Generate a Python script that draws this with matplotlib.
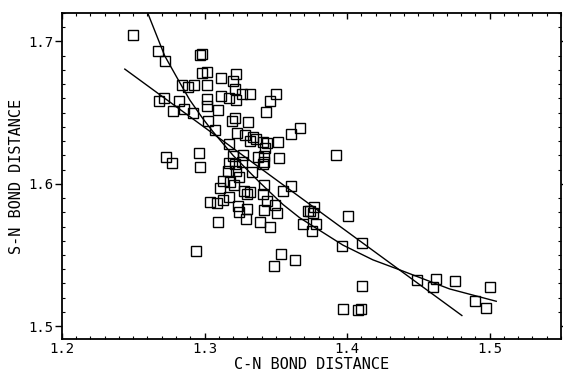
import numpy as np
import matplotlib
matplotlib.use("Agg")
import matplotlib.pyplot as plt
from matplotlib.ticker import MultipleLocator

# === Data ===
cn = [1.2496, 1.2674, 1.2722, 1.2966, 1.2984, 1.2979, 1.3019, 1.3218, 1.3117, 1.3200,
      1.2840, 1.2881, 1.2923, 1.3019, 1.3213, 1.3117, 1.3175, 1.3218, 1.3265, 1.3318,
      1.3016, 1.3016, 1.2682, 1.2714, 1.2818, 1.2780, 1.2853, 1.2921, 1.3097, 1.3457,
      1.3504, 1.3429, 1.3213, 1.3195, 1.3303, 1.3021, 1.3077, 1.3673, 1.3605, 1.3228,
      1.3283, 1.3318, 1.3341, 1.3358, 1.3409, 1.3436, 1.3512, 1.3919, 1.2964, 1.2730,
      1.2772, 1.2971, 1.3203, 1.3270, 1.3376, 1.3416, 1.3522, 1.3170, 1.3213, 1.3265,
      1.3411, 1.3419, 1.3162, 1.3218, 1.3333, 1.3245, 1.3130, 1.3180, 1.3205, 1.3109,
      1.3275, 1.3318, 1.3296, 1.3414, 1.3411, 1.3550, 1.3610, 1.3172, 1.3039, 1.3087,
      1.3130, 1.3439, 1.3238, 1.3245, 1.3296, 1.3291, 1.3414, 1.3492, 1.3509, 1.3386,
      1.3457, 1.3094, 1.3728, 1.3743, 1.3769, 1.3761, 1.3688, 1.3784, 1.3756, 1.4003,
      1.3965, 1.4106, 1.2943, 1.3535, 1.3635, 1.3484, 1.4491, 1.4621, 1.4604, 1.4760,
      1.5001, 1.4103, 1.3972, 1.4078, 1.4096, 1.4898, 1.4971, 1.3175, 1.3426]
sn = [1.7044, 1.6935, 1.6864, 1.6904, 1.6909, 1.6782, 1.6789, 1.6775, 1.6740, 1.6719,
      1.6694, 1.6682, 1.6691, 1.6694, 1.6663, 1.6619, 1.6602, 1.6588, 1.6628, 1.6628,
      1.6593, 1.6546, 1.6579, 1.6605, 1.6579, 1.6509, 1.6525, 1.6497, 1.6516, 1.6579,
      1.6628, 1.6502, 1.6464, 1.6439, 1.6434, 1.6439, 1.6378, 1.6389, 1.6350, 1.6354,
      1.6343, 1.6303, 1.6326, 1.6315, 1.6294, 1.6284, 1.6291, 1.6205, 1.6216, 1.6188,
      1.6146, 1.6116, 1.6198, 1.6205, 1.6186, 1.6193, 1.6181, 1.6144, 1.6139, 1.6153,
      1.6139, 1.6151, 1.6092, 1.6092, 1.6081, 1.6046, 1.6022, 1.6011, 1.5994, 1.5971,
      1.5952, 1.5940, 1.5929, 1.5992, 1.5929, 1.5947, 1.5985, 1.5910, 1.5873, 1.5865,
      1.5887, 1.5882, 1.5847, 1.5802, 1.5823, 1.5753, 1.5819, 1.5849, 1.5793, 1.5732,
      1.5699, 1.5732, 1.5807, 1.5812, 1.5840, 1.5793, 1.5718, 1.5718, 1.5667, 1.5774,
      1.5561, 1.5582, 1.5526, 1.5508, 1.5465, 1.5426, 1.5325, 1.5330, 1.5278, 1.5318,
      1.5278, 1.5283, 1.5124, 1.5115, 1.5122, 1.5180, 1.5131, 1.6282, 1.6251]

# straight fit line (end points)
line_x = [1.2441, 1.4805]
line_y = [1.6806, 1.5075]

# curved fit
curve_x = [1.2602, 1.2721, 1.2826, 1.2896, 1.2987, 1.3058, 1.3200, 1.3387,
           1.3550, 1.3667, 1.3970, 1.4181, 1.4368, 1.4718, 1.5046]
curve_y = [1.7199, 1.6899, 1.6712, 1.6590, 1.6460, 1.6368, 1.6200, 1.6010,
           1.5855, 1.5762, 1.5570, 1.5466, 1.5396, 1.5262, 1.5175]

x_ticks = [1.2, 1.3, 1.4, 1.5]
y_ticks = [1.5, 1.6, 1.7]

# === Plot ===
FONT = "DejaVu Sans Mono"
fig = plt.figure(figsize=(5.63, 3.76), dpi=100)
ax = fig.add_axes([0.110, 0.0984, 0.8864, 0.867])

ax.plot(cn, sn, linestyle="none", marker="s", markersize=6.5,
        markerfacecolor="none", markeredgecolor="black", markeredgewidth=1.0)
ax.plot(line_x, line_y, color="black", linewidth=1.0)
ax.plot(curve_x, curve_y, color="black", linewidth=1.0)

ax.set_xlim(1.2, 1.550)
ax.set_ylim(1.491, 1.720)
ax.set_xticks(x_ticks)
ax.set_yticks(y_ticks)
ax.set_xticklabels([f"{v:.1f}" for v in x_ticks], fontfamily=FONT, fontsize=10)
ax.set_yticklabels([f"{v:.1f}" for v in y_ticks], fontfamily=FONT, fontsize=10)
ax.xaxis.set_minor_locator(MultipleLocator(0.01))
ax.yaxis.set_minor_locator(MultipleLocator(0.01))

ax.tick_params(which="major", direction="out", length=5, width=1.0, pad=1,
               top=True, right=True)
ax.tick_params(axis="x", which="major", direction="in", length=4, pad=2)
ax.tick_params(which="minor", direction="in", length=2, width=0.8,
               top=True, right=True)
for s in ax.spines.values():
    s.set_linewidth(1.3)

ax.set_xlabel("C-N BOND DISTANCE", fontfamily=FONT, fontsize=11, labelpad=1)
ax.set_ylabel("S-N BOND DISTANCE", fontfamily=FONT, fontsize=11, labelpad=3)

fig.savefig("out.png", dpi=100)
